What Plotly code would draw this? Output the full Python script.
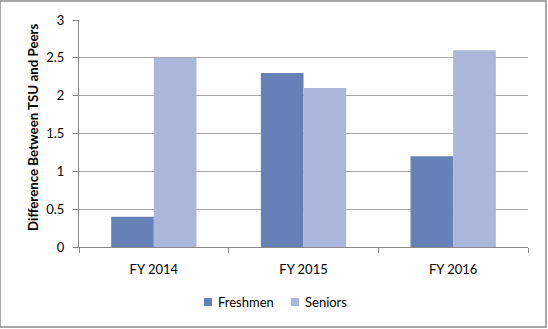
import plotly.graph_objects as go

categories = ["FY 2014", "FY 2015", "FY 2016"]
freshmen = [0.4, 2.3, 1.2]
seniors = [2.5, 2.1, 2.6]
y_ticks = [0, 0.5, 1, 1.5, 2, 2.5, 3]
y_tick_text = ["0", "0.5", "1", "1.5", "2", "2.5", "3"]
series_names = ["Freshmen", "Seniors"]
y_title = "Difference Between TSU and Peers"

font_family = "Lato, Open Sans, sans-serif"
fresh_color = "#6680B8"
senior_color = "#AAB7DA"

fig = go.Figure()
fig.add_trace(go.Bar(name=series_names[0], x=categories, y=freshmen, showlegend=False,
                     marker=dict(color=fresh_color, line=dict(width=0))))
fig.add_trace(go.Bar(name=series_names[1], x=categories, y=seniors, showlegend=False,
                     marker=dict(color=senior_color, line=dict(width=0))))

plot_w, plot_h = 449, 227
shapes = []
annotations = []

# compact legend below the axis: small square key followed by label
legend_y = -55 / plot_h
legend_items = [(series_names[0], fresh_color, 208), (series_names[1], senior_color, 295)]
for name, color, px in legend_items:
    shapes.append(dict(type="rect", xref="paper", yref="paper",
                       x0=(px - 79 - 4) / plot_w, x1=(px - 79 + 4) / plot_w,
                       y0=legend_y - 4 / plot_h, y1=legend_y + 4 / plot_h,
                       fillcolor=color, line=dict(width=0)))
    annotations.append(dict(text=name, xref="paper", yref="paper",
                            x=(px - 79 + 8) / plot_w, y=legend_y,
                            xanchor="left", yanchor="middle", showarrow=False,
                            font=dict(size=13)))

# rotated y-axis title
annotations.append(dict(text="<b>" + y_title + "</b>", xref="paper", yref="paper",
                        x=(33 - 79) / plot_w, y=(247 - 127) / plot_h, textangle=-90,
                        xanchor="center", yanchor="middle", showarrow=False,
                        font=dict(size=13.3)))

# outer chart border
shapes.append(dict(type="rect", xref="paper", yref="paper",
                   x0=-79 / plot_w, x1=1 + 18 / plot_w, y0=-80 / plot_h, y1=1 + 19 / plot_h,
                   line=dict(color="#8C8C8C", width=1.5)))

fig.update_layout(
    width=548, height=329,
    margin=dict(l=79, r=20, t=20, b=82),
    paper_bgcolor="white", plot_bgcolor="white",
    barmode="group", bargap=0.43, bargroupgap=0,
    font=dict(family=font_family, size=13, color="#000000"),
    showlegend=False,
    xaxis=dict(showline=True, linecolor="#878787", linewidth=1,
               ticks="outside", tickson="boundaries", ticklen=5, tickcolor="#878787",
               tickfont=dict(size=13), showgrid=False, ticklabelstandoff=10),
    yaxis=dict(range=[0, 3], tickvals=y_ticks, ticktext=y_tick_text,
               showline=True, linecolor="#878787", linewidth=1,
               ticks="outside", ticklen=5, tickcolor="#878787",
               showgrid=True, gridcolor="#A6A6A6", gridwidth=1,
               zeroline=False, tickfont=dict(size=13), ticklabelstandoff=6),
    shapes=shapes,
    annotations=annotations,
)

fig.write_html("out.html")
